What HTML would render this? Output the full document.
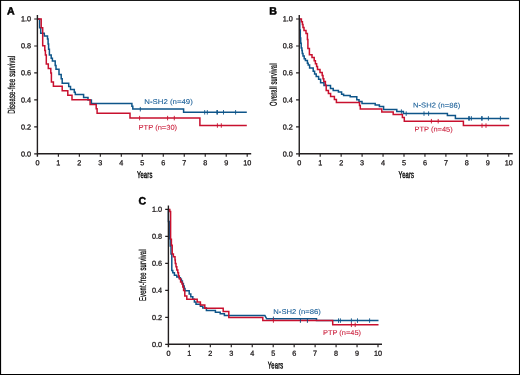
<!DOCTYPE html>
<html lang="en"><head><meta charset="utf-8"><title>Survival curves</title>
<style>html,body{margin:0;padding:0;background:#fff;}body{width:520px;height:375px;overflow:hidden;}svg{display:block;}text{font-family:'Liberation Sans', Arial, Helvetica, sans-serif;text-rendering:geometricPrecision;}</style></head><body>
<svg width="520" height="375" viewBox="0 0 520 375">
<rect x="0" y="0" width="520" height="375" fill="#fff"/>
<rect x="0" y="0" width="520" height="0.9" fill="#000"/>
<rect x="0" y="374" width="520" height="1" fill="#000"/>
<rect x="0" y="0" width="1.1" height="375" fill="#000"/>
<rect x="518.95" y="0" width="1.05" height="375" fill="#000"/>
<g id="chart-A">
<path d="M37.40 19.00H39.60V27.70H40.70V33.30H44.30V35.90H47.50V38.90H48.10V44.10H48.60V49.30H49.40V55.10H51.20V58.20H52.40V61.00H55.20V65.50H56.00V69.30H59.00V74.60H61.20V78.80H62.20V83.30H68.70V86.40H70.50V89.40H74.30V92.20H75.30V94.50H83.60V97.60H88.00V100.10H91.40V103.40H131.90V106.30H132.80V109.10H183.60V112.20H246.80" fill="none" stroke="#0E5589" stroke-width="1.5" stroke-linejoin="miter"/>
<path d="M140.30 106.95v4.50M204.70 110.05v4.50M207.30 110.05v4.50M216.80 110.05v4.50M217.50 110.05v4.50M223.50 110.05v4.50M235.60 110.05v4.50" fill="none" stroke="#0E5589" stroke-width="0.9"/>
<path d="M37.40 19.00H41.20V27.80H42.70V45.80H44.80V50.40H45.40V54.90H46.30V63.90H48.30V68.40H50.80V72.90H51.40V81.90H53.40V86.35H62.20V90.80H67.80V95.30H72.00V99.80H90.10V104.40H96.20V108.80H97.10V113.30H130.00V118.10H199.90V125.50H246.80" fill="none" stroke="#C8102E" stroke-width="1.5" stroke-linejoin="miter"/>
<path d="M139.60 115.85v4.50M167.60 115.85v4.50M174.30 115.85v4.50M217.40 123.25v4.50M221.30 123.25v4.50" fill="none" stroke="#C8102E" stroke-width="0.9"/>
<path d="M37.40 15.00V156.80M36.90 153.80H251.20" fill="none" stroke="#231F20" stroke-width="1.4"/>
<path d="M58.38 153.80v3M79.36 153.80v3M100.34 153.80v3M121.32 153.80v3M142.30 153.80v3M163.28 153.80v3M184.26 153.80v3M205.24 153.80v3M226.22 153.80v3M247.20 153.80v3M37.40 153.80h-3.2M37.40 126.84h-3.2M37.40 99.88h-3.2M37.40 72.92h-3.2M37.40 45.96h-3.2M37.40 19.00h-3.2" fill="none" stroke="#231F20" stroke-width="1.15"/>
<text transform="translate(37.40 165.20) rotate(0.05)" font-size="7.25" fill="#231F20" text-anchor="middle" stroke="#231F20" stroke-width="0.3" stroke-linejoin="round">0</text>
<text transform="translate(58.38 165.20) rotate(0.05)" font-size="7.25" fill="#231F20" text-anchor="middle" stroke="#231F20" stroke-width="0.3" stroke-linejoin="round">1</text>
<text transform="translate(79.36 165.20) rotate(0.05)" font-size="7.25" fill="#231F20" text-anchor="middle" stroke="#231F20" stroke-width="0.3" stroke-linejoin="round">2</text>
<text transform="translate(100.34 165.20) rotate(0.05)" font-size="7.25" fill="#231F20" text-anchor="middle" stroke="#231F20" stroke-width="0.3" stroke-linejoin="round">3</text>
<text transform="translate(121.32 165.20) rotate(0.05)" font-size="7.25" fill="#231F20" text-anchor="middle" stroke="#231F20" stroke-width="0.3" stroke-linejoin="round">4</text>
<text transform="translate(142.30 165.20) rotate(0.05)" font-size="7.25" fill="#231F20" text-anchor="middle" stroke="#231F20" stroke-width="0.3" stroke-linejoin="round">5</text>
<text transform="translate(163.28 165.20) rotate(0.05)" font-size="7.25" fill="#231F20" text-anchor="middle" stroke="#231F20" stroke-width="0.3" stroke-linejoin="round">6</text>
<text transform="translate(184.26 165.20) rotate(0.05)" font-size="7.25" fill="#231F20" text-anchor="middle" stroke="#231F20" stroke-width="0.3" stroke-linejoin="round">7</text>
<text transform="translate(205.24 165.20) rotate(0.05)" font-size="7.25" fill="#231F20" text-anchor="middle" stroke="#231F20" stroke-width="0.3" stroke-linejoin="round">8</text>
<text transform="translate(226.22 165.20) rotate(0.05)" font-size="7.25" fill="#231F20" text-anchor="middle" stroke="#231F20" stroke-width="0.3" stroke-linejoin="round">9</text>
<text transform="translate(247.20 165.20) rotate(0.05)" font-size="7.25" fill="#231F20" text-anchor="middle" stroke="#231F20" stroke-width="0.3" stroke-linejoin="round">10</text>
<text transform="translate(31.00 156.45) rotate(0.05)" font-size="7.25" fill="#231F20" text-anchor="end" stroke="#231F20" stroke-width="0.3" stroke-linejoin="round">0.0</text>
<text transform="translate(31.00 129.42) rotate(0.05)" font-size="7.25" fill="#231F20" text-anchor="end" stroke="#231F20" stroke-width="0.3" stroke-linejoin="round">0.2</text>
<text transform="translate(31.00 102.39) rotate(0.05)" font-size="7.25" fill="#231F20" text-anchor="end" stroke="#231F20" stroke-width="0.3" stroke-linejoin="round">0.4</text>
<text transform="translate(31.00 75.36) rotate(0.05)" font-size="7.25" fill="#231F20" text-anchor="end" stroke="#231F20" stroke-width="0.3" stroke-linejoin="round">0.6</text>
<text transform="translate(31.00 48.33) rotate(0.05)" font-size="7.25" fill="#231F20" text-anchor="end" stroke="#231F20" stroke-width="0.3" stroke-linejoin="round">0.8</text>
<text transform="translate(31.00 21.30) rotate(0.05)" font-size="7.25" fill="#231F20" text-anchor="end" stroke="#231F20" stroke-width="0.3" stroke-linejoin="round">1.0</text>
<text transform="translate(144.70 178.00) rotate(0.05) scale(0.5850 1)" font-size="10.0" fill="#000" text-anchor="middle" letter-spacing="0.3" stroke="#000" stroke-width="0.4" stroke-linejoin="round" vector-effect="non-scaling-stroke">Years</text>
<text transform="translate(14.90 84.70) rotate(-89.95) scale(0.5850 1)" font-size="10.0" fill="#000" text-anchor="middle" letter-spacing="0.3" stroke="#000" stroke-width="0.25" stroke-linejoin="round" vector-effect="non-scaling-stroke">Disease-free survival</text>
<text transform="translate(144.30 104.00) rotate(0.05) scale(1.1181 1)" font-size="7.0" fill="#1A5F98" stroke="#1A5F98" stroke-width="0.1" stroke-linejoin="round">N-SH2 (n=49)</text>
<text transform="translate(138.60 129.80) rotate(0.05) scale(1.0736 1)" font-size="7.0" fill="#CB1F3C" stroke="#CB1F3C" stroke-width="0.1" stroke-linejoin="round">PTP (n=30)</text>
<text transform="translate(7.10 14.60) rotate(0.05)" font-size="10.6" fill="#000" font-weight="bold" stroke="#000" stroke-width="0.5" stroke-linejoin="round">A</text>
</g>
<g id="chart-B">
<path d="M299.25 19.00H299.80V30.00H300.30V38.00H300.70V43.20H301.20V48.00H301.90V50.40H302.30V53.60H303.00V56.00H304.20V58.80H305.40V60.40H307.40V63.20H308.20V65.00H309.60V68.00H313.20V71.20H314.60V74.00H316.20V76.60H318.60V79.20H320.60V82.80H324.00V85.60H330.50V88.60H333.20V90.40H338.40V92.00H341.60V94.20H343.60V95.40H350.20V96.80H356.80V99.80H359.00V101.60H362.00V103.40H375.20V105.00H379.40V106.40H383.60V109.40H396.80V111.60H403.40V113.60H447.40V115.60H455.40V118.40H509.20" fill="none" stroke="#0E5589" stroke-width="1.5" stroke-linejoin="miter"/>
<path d="M401.40 109.35v4.50M406.20 111.35v4.50M424.00 111.35v4.50M428.60 111.35v4.50M468.60 116.15v4.50M469.60 116.15v4.50M471.40 116.15v4.50M481.60 116.15v4.50M482.20 116.15v4.50M488.40 116.15v4.50M500.40 116.15v4.50" fill="none" stroke="#0E5589" stroke-width="0.9"/>
<path d="M299.25 19.00H301.40V21.80H302.40V24.60H303.00V27.40H304.00V30.60H306.00V33.40H307.40V39.60H307.90V48.40H309.40V54.80H312.00V57.60H314.20V60.80H315.40V63.80H316.60V66.60H317.50V69.60H320.00V72.40H322.20V75.60H323.00V78.80H323.80V81.60H325.40V85.20H326.20V90.40H328.40V93.60H330.60V96.60H334.40V99.40H336.40V102.60H359.50V105.60H360.30V109.00H381.80V112.00H393.20V114.60H402.40V117.40H404.30V121.20H463.40V125.60H509.20" fill="none" stroke="#C8102E" stroke-width="1.5" stroke-linejoin="miter"/>
<path d="M431.40 118.95v4.50M438.20 118.95v4.50M482.00 123.35v4.50M486.00 123.35v4.50" fill="none" stroke="#C8102E" stroke-width="0.9"/>
<path d="M299.25 15.00V156.80M298.75 153.80H512.75" fill="none" stroke="#231F20" stroke-width="1.4"/>
<path d="M320.20 153.80v3M341.15 153.80v3M362.10 153.80v3M383.05 153.80v3M404.00 153.80v3M424.95 153.80v3M445.90 153.80v3M466.85 153.80v3M487.80 153.80v3M508.75 153.80v3M299.25 153.80h-3.2M299.25 126.84h-3.2M299.25 99.88h-3.2M299.25 72.92h-3.2M299.25 45.96h-3.2M299.25 19.00h-3.2" fill="none" stroke="#231F20" stroke-width="1.15"/>
<text transform="translate(299.25 165.20) rotate(0.05)" font-size="7.25" fill="#231F20" text-anchor="middle" stroke="#231F20" stroke-width="0.3" stroke-linejoin="round">0</text>
<text transform="translate(320.20 165.20) rotate(0.05)" font-size="7.25" fill="#231F20" text-anchor="middle" stroke="#231F20" stroke-width="0.3" stroke-linejoin="round">1</text>
<text transform="translate(341.15 165.20) rotate(0.05)" font-size="7.25" fill="#231F20" text-anchor="middle" stroke="#231F20" stroke-width="0.3" stroke-linejoin="round">2</text>
<text transform="translate(362.10 165.20) rotate(0.05)" font-size="7.25" fill="#231F20" text-anchor="middle" stroke="#231F20" stroke-width="0.3" stroke-linejoin="round">3</text>
<text transform="translate(383.05 165.20) rotate(0.05)" font-size="7.25" fill="#231F20" text-anchor="middle" stroke="#231F20" stroke-width="0.3" stroke-linejoin="round">4</text>
<text transform="translate(404.00 165.20) rotate(0.05)" font-size="7.25" fill="#231F20" text-anchor="middle" stroke="#231F20" stroke-width="0.3" stroke-linejoin="round">5</text>
<text transform="translate(424.95 165.20) rotate(0.05)" font-size="7.25" fill="#231F20" text-anchor="middle" stroke="#231F20" stroke-width="0.3" stroke-linejoin="round">6</text>
<text transform="translate(445.90 165.20) rotate(0.05)" font-size="7.25" fill="#231F20" text-anchor="middle" stroke="#231F20" stroke-width="0.3" stroke-linejoin="round">7</text>
<text transform="translate(466.85 165.20) rotate(0.05)" font-size="7.25" fill="#231F20" text-anchor="middle" stroke="#231F20" stroke-width="0.3" stroke-linejoin="round">8</text>
<text transform="translate(487.80 165.20) rotate(0.05)" font-size="7.25" fill="#231F20" text-anchor="middle" stroke="#231F20" stroke-width="0.3" stroke-linejoin="round">9</text>
<text transform="translate(508.75 165.20) rotate(0.05)" font-size="7.25" fill="#231F20" text-anchor="middle" stroke="#231F20" stroke-width="0.3" stroke-linejoin="round">10</text>
<text transform="translate(292.85 156.45) rotate(0.05)" font-size="7.25" fill="#231F20" text-anchor="end" stroke="#231F20" stroke-width="0.3" stroke-linejoin="round">0.0</text>
<text transform="translate(292.85 129.42) rotate(0.05)" font-size="7.25" fill="#231F20" text-anchor="end" stroke="#231F20" stroke-width="0.3" stroke-linejoin="round">0.2</text>
<text transform="translate(292.85 102.39) rotate(0.05)" font-size="7.25" fill="#231F20" text-anchor="end" stroke="#231F20" stroke-width="0.3" stroke-linejoin="round">0.4</text>
<text transform="translate(292.85 75.36) rotate(0.05)" font-size="7.25" fill="#231F20" text-anchor="end" stroke="#231F20" stroke-width="0.3" stroke-linejoin="round">0.6</text>
<text transform="translate(292.85 48.33) rotate(0.05)" font-size="7.25" fill="#231F20" text-anchor="end" stroke="#231F20" stroke-width="0.3" stroke-linejoin="round">0.8</text>
<text transform="translate(292.85 21.30) rotate(0.05)" font-size="7.25" fill="#231F20" text-anchor="end" stroke="#231F20" stroke-width="0.3" stroke-linejoin="round">1.0</text>
<text transform="translate(406.40 178.00) rotate(0.05) scale(0.5850 1)" font-size="10.0" fill="#000" text-anchor="middle" letter-spacing="0.3" stroke="#000" stroke-width="0.4" stroke-linejoin="round" vector-effect="non-scaling-stroke">Years</text>
<text transform="translate(276.75 84.70) rotate(-89.95) scale(0.5850 1)" font-size="10.0" fill="#000" text-anchor="middle" letter-spacing="0.3" stroke="#000" stroke-width="0.25" stroke-linejoin="round" vector-effect="non-scaling-stroke">Overall survival</text>
<text transform="translate(413.10 107.60) rotate(0.05) scale(1.0858 1)" font-size="7.0" fill="#1A5F98" stroke="#1A5F98" stroke-width="0.1" stroke-linejoin="round">N-SH2 (n=86)</text>
<text transform="translate(414.60 131.60) rotate(0.05) scale(1.0596 1)" font-size="7.0" fill="#CB1F3C" stroke="#CB1F3C" stroke-width="0.1" stroke-linejoin="round">PTP (n=45)</text>
<text transform="translate(269.20 14.50) rotate(0.05)" font-size="10.6" fill="#000" font-weight="bold" stroke="#000" stroke-width="0.5" stroke-linejoin="round">B</text>
</g>
<g id="chart-C">
<path d="M168.40 209.40H168.45V221.50H169.30V238.80H170.20V246.00H171.00V254.00H171.80V270.40H172.80V272.80H174.40V275.20H176.80V277.00H179.20V277.80H180.40V279.20H181.40V281.00H182.40V283.50H183.40V286.00H184.20V288.50H185.00V290.80H189.20V294.00H190.80V296.80H192.80V299.20H194.40V302.00H196.00V304.20H200.40V306.20H202.80V308.00H206.40V310.40H215.40V312.20H220.20V313.80H224.40V315.60H264.90V315.60L266.70 318.80H316.50V320.60H378.50" fill="none" stroke="#0E5589" stroke-width="1.5" stroke-linejoin="miter"/>
<path d="M273.40 316.55v4.50M338.50 318.35v4.50M340.40 318.35v4.50M351.40 318.35v4.50M357.50 318.35v4.50M369.60 318.35v4.50" fill="none" stroke="#0E5589" stroke-width="0.9"/>
<path d="M168.40 209.40H169.80V211.60H170.60V239.20H171.40V245.20H172.20V254.00H173.40V256.80H175.00V260.00H175.30V263.60H176.00V266.80H176.80V270.00H177.80V272.80H178.50V276.00H179.30V278.80H180.60V282.00H182.00V284.00H182.80V287.00H183.60V290.40H184.80V296.00H186.80V299.20H197.20V302.00H200.40V305.00H204.80V308.20H223.20V311.60H228.80V317.40H262.80V320.60H332.70V324.80H378.50" fill="none" stroke="#C8102E" stroke-width="1.5" stroke-linejoin="miter"/>
<path d="M273.40 318.25v4.50M351.40 322.55v4.50M355.20 322.55v4.50" fill="none" stroke="#C8102E" stroke-width="0.9"/>
<path d="M300.40 318.65v4.20M307.40 318.65v4.20" fill="none" stroke="#0B4576" stroke-width="0.9"/>
<path d="M168.40 205.40V347.30M167.90 344.30H382.00" fill="none" stroke="#231F20" stroke-width="1.4"/>
<path d="M189.36 344.30v3M210.32 344.30v3M231.28 344.30v3M252.24 344.30v3M273.20 344.30v3M294.16 344.30v3M315.12 344.30v3M336.08 344.30v3M357.04 344.30v3M378.00 344.30v3M168.40 344.30h-3.2M168.40 317.32h-3.2M168.40 290.34h-3.2M168.40 263.36h-3.2M168.40 236.38h-3.2M168.40 209.40h-3.2" fill="none" stroke="#231F20" stroke-width="1.15"/>
<text transform="translate(168.40 355.70) rotate(0.05)" font-size="7.25" fill="#231F20" text-anchor="middle" stroke="#231F20" stroke-width="0.3" stroke-linejoin="round">0</text>
<text transform="translate(189.36 355.70) rotate(0.05)" font-size="7.25" fill="#231F20" text-anchor="middle" stroke="#231F20" stroke-width="0.3" stroke-linejoin="round">1</text>
<text transform="translate(210.32 355.70) rotate(0.05)" font-size="7.25" fill="#231F20" text-anchor="middle" stroke="#231F20" stroke-width="0.3" stroke-linejoin="round">2</text>
<text transform="translate(231.28 355.70) rotate(0.05)" font-size="7.25" fill="#231F20" text-anchor="middle" stroke="#231F20" stroke-width="0.3" stroke-linejoin="round">3</text>
<text transform="translate(252.24 355.70) rotate(0.05)" font-size="7.25" fill="#231F20" text-anchor="middle" stroke="#231F20" stroke-width="0.3" stroke-linejoin="round">4</text>
<text transform="translate(273.20 355.70) rotate(0.05)" font-size="7.25" fill="#231F20" text-anchor="middle" stroke="#231F20" stroke-width="0.3" stroke-linejoin="round">5</text>
<text transform="translate(294.16 355.70) rotate(0.05)" font-size="7.25" fill="#231F20" text-anchor="middle" stroke="#231F20" stroke-width="0.3" stroke-linejoin="round">6</text>
<text transform="translate(315.12 355.70) rotate(0.05)" font-size="7.25" fill="#231F20" text-anchor="middle" stroke="#231F20" stroke-width="0.3" stroke-linejoin="round">7</text>
<text transform="translate(336.08 355.70) rotate(0.05)" font-size="7.25" fill="#231F20" text-anchor="middle" stroke="#231F20" stroke-width="0.3" stroke-linejoin="round">8</text>
<text transform="translate(357.04 355.70) rotate(0.05)" font-size="7.25" fill="#231F20" text-anchor="middle" stroke="#231F20" stroke-width="0.3" stroke-linejoin="round">9</text>
<text transform="translate(378.00 355.70) rotate(0.05)" font-size="7.25" fill="#231F20" text-anchor="middle" stroke="#231F20" stroke-width="0.3" stroke-linejoin="round">10</text>
<text transform="translate(162.00 346.95) rotate(0.05)" font-size="7.25" fill="#231F20" text-anchor="end" stroke="#231F20" stroke-width="0.3" stroke-linejoin="round">0.0</text>
<text transform="translate(162.00 319.90) rotate(0.05)" font-size="7.25" fill="#231F20" text-anchor="end" stroke="#231F20" stroke-width="0.3" stroke-linejoin="round">0.2</text>
<text transform="translate(162.00 292.85) rotate(0.05)" font-size="7.25" fill="#231F20" text-anchor="end" stroke="#231F20" stroke-width="0.3" stroke-linejoin="round">0.4</text>
<text transform="translate(162.00 265.80) rotate(0.05)" font-size="7.25" fill="#231F20" text-anchor="end" stroke="#231F20" stroke-width="0.3" stroke-linejoin="round">0.6</text>
<text transform="translate(162.00 238.75) rotate(0.05)" font-size="7.25" fill="#231F20" text-anchor="end" stroke="#231F20" stroke-width="0.3" stroke-linejoin="round">0.8</text>
<text transform="translate(162.00 211.70) rotate(0.05)" font-size="7.25" fill="#231F20" text-anchor="end" stroke="#231F20" stroke-width="0.3" stroke-linejoin="round">1.0</text>
<text transform="translate(275.60 368.50) rotate(0.05) scale(0.5850 1)" font-size="10.0" fill="#000" text-anchor="middle" letter-spacing="0.3" stroke="#000" stroke-width="0.4" stroke-linejoin="round" vector-effect="non-scaling-stroke">Years</text>
<text transform="translate(145.90 275.15) rotate(-89.95) scale(0.5850 1)" font-size="10.0" fill="#000" text-anchor="middle" letter-spacing="0.3" stroke="#000" stroke-width="0.25" stroke-linejoin="round" vector-effect="non-scaling-stroke">Event-free survival</text>
<text transform="translate(273.30 314.00) rotate(0.05) scale(1.0950 1)" font-size="7.0" fill="#1A5F98" stroke="#1A5F98" stroke-width="0.1" stroke-linejoin="round">N-SH2 (n=86)</text>
<text transform="translate(323.00 334.90) rotate(0.05) scale(1.0596 1)" font-size="7.0" fill="#CB1F3C" stroke="#CB1F3C" stroke-width="0.1" stroke-linejoin="round">PTP (n=45)</text>
<text transform="translate(138.50 204.50) rotate(0.05)" font-size="10.6" fill="#000" font-weight="bold" stroke="#000" stroke-width="0.5" stroke-linejoin="round">C</text>
</g>
</svg></body></html>
